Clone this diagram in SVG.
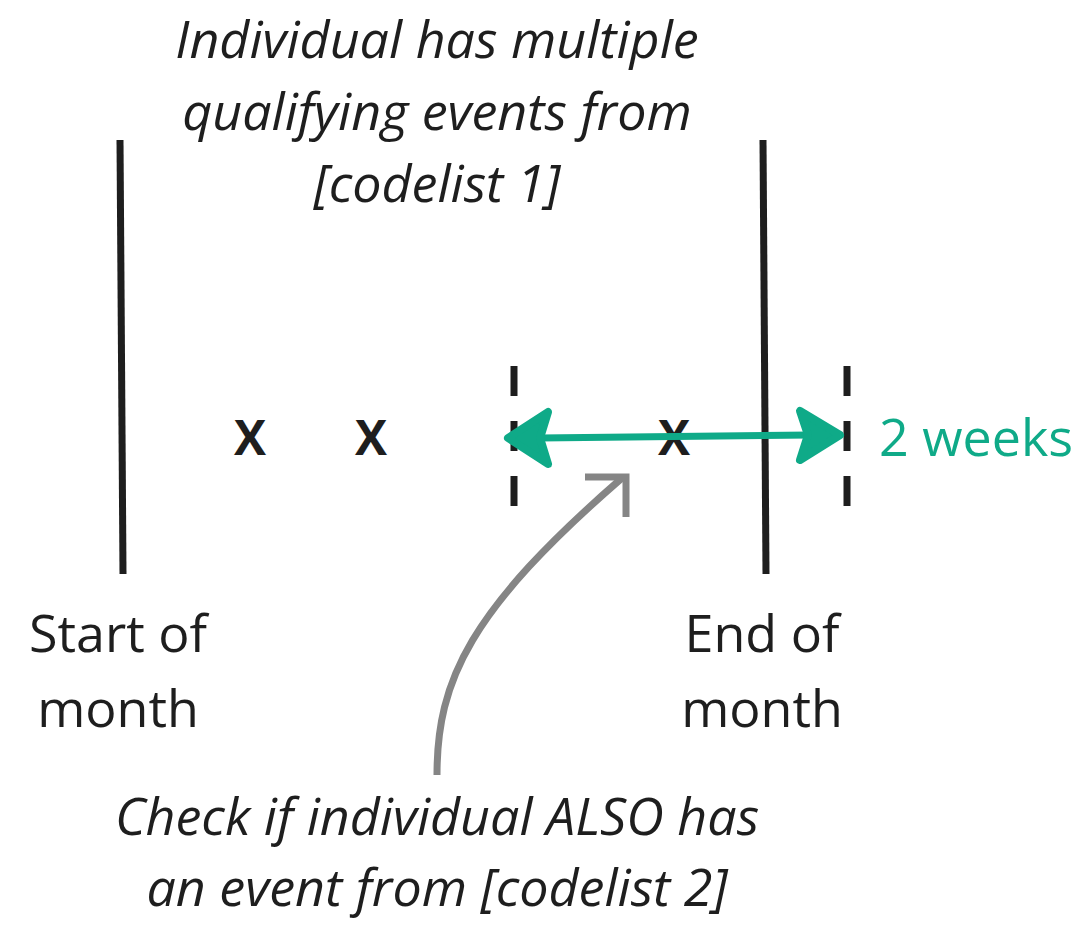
<svg xmlns="http://www.w3.org/2000/svg" width="1076" height="929" viewBox="0 0 1076 929">
<style>
.t{font-family:"Open Sans","Liberation Sans",sans-serif;font-size:52px;fill:#1e1e1e}
.it{font-style:italic}
.x{font-family:"Open Sans","Liberation Sans",sans-serif;font-weight:bold;font-size:48px;fill:#1e1e1e}
.bar{stroke:#1e1e1e;stroke-width:7;fill:none}
.dash{stroke:#1e1e1e;stroke-width:7;fill:none;stroke-dasharray:30 25}
</style>
<rect width="1076" height="929" fill="#fff"/>
<g id="title"><text class="t it" text-anchor="middle" x="437" y="58">Individual has multiple</text><text class="t it" text-anchor="middle" x="437" y="130">qualifying events from</text><text class="t it" text-anchor="middle" x="437" y="202">[codelist 1]</text></g>
<g id="start"><line class="bar" x1="120" y1="140" x2="123" y2="574"/><text class="t" text-anchor="middle" x="118" y="652">Start of</text><text class="t" text-anchor="middle" x="118" y="727">month</text></g>
<g id="end"><line class="bar" x1="763" y1="140" x2="766" y2="574"/><text class="t" text-anchor="middle" x="762" y="652">End of</text><text class="t" text-anchor="middle" x="762" y="727">month</text></g>
<g id="events"><text class="x" text-anchor="middle" x="250" y="455">X</text><text class="x" text-anchor="middle" x="371" y="455">X</text><text class="x" text-anchor="middle" x="674" y="455">X</text></g>
<g id="window"><line class="dash" x1="514" y1="366" x2="514" y2="506"/><line class="dash" x1="847" y1="366" x2="847" y2="506"/><text x="879" y="456" font-family="Open Sans, Liberation Sans, sans-serif" font-size="52" fill="#0faa88">2 weeks</text></g>
<g id="note"><text class="t it" text-anchor="middle" x="437" y="835">Check if individual ALSO has</text><text class="t it" text-anchor="middle" x="437" y="906">an event from [codelist 2]</text></g>
<g id="connectors">
<line x1="540" y1="438" x2="810" y2="435" stroke="#0faa88" stroke-width="7"/>
<path d="M508,438 L548,412 L540,438 L548,464 Z" fill="#0faa88" stroke="#0faa88" stroke-width="8" stroke-linejoin="round"/>
<path d="M840,435 L800,411 L808,435 L800,460 Z" fill="#0faa88" stroke="#0faa88" stroke-width="8" stroke-linejoin="round"/>
<path d="M437,775 C437,680 470,610 622,478" fill="none" stroke="#858585" stroke-width="7"/>
<path d="M585,477 L626,477 L626,517" fill="none" stroke="#858585" stroke-width="7"/>
</g>
</svg>
